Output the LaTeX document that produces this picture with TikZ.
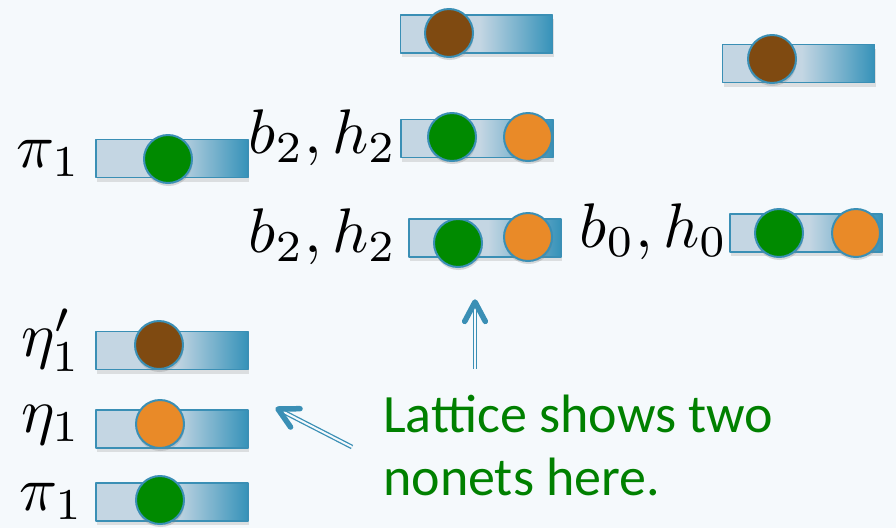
\documentclass[tikz,border=0pt]{standalone}
\usepackage{fontspec}
\newfontfamily\calib{Carlito}
\usetikzlibrary{calc,shadows}
\definecolor{bgc}{HTML}{F5F9FC}
\definecolor{barlite}{HTML}{C4D6E3}
\definecolor{bardark}{HTML}{3592B9}
\definecolor{edgeblue}{HTML}{3A8FB5}
\definecolor{qgreen}{HTML}{008A00}
\definecolor{qorange}{HTML}{E98A28}
\definecolor{qbrown}{HTML}{7F4A11}
\definecolor{txtgreen}{HTML}{008000}
\pgfdeclarehorizontalshading{barshade}{100bp}{color(0bp)=(barlite); color(51bp)=(barlite); color(75bp)=(bardark); color(100bp)=(bardark)}
\begin{document}
\begin{tikzpicture}[x=1pt, y=-1pt, line cap=round, line join=round,
    bar/.style={draw=edgeblue, line width=1.7pt, shade, shading=barshade, inner sep=0pt,
      minimum width=152pt, minimum height=38pt,
      drop shadow={opacity=0.22, shadow xshift=1pt, shadow yshift=-4pt}},
    dot/.style={circle, draw=edgeblue, line width=2pt, inner sep=0pt, minimum size=48pt,
      drop shadow={opacity=0.28, shadow xshift=0.5pt, shadow yshift=-3pt}},
    mlab/.style={inner sep=0pt, scale=6.3},
    note/.style={inner sep=0pt, align=left, text=txtgreen, font=\calib\fontsize{54}{63}\selectfont},
    dbl/.style={draw=edgeblue, line width=1.3pt, double=bgc, double distance=2pt, line cap=butt},
    chev/.style={draw=edgeblue, line width=5.5pt}]
  \fill[bgc] (0,0) rectangle (896,528);
  % upper states
  \node[bar] (topbar) at (476.5,34) {};
  \node[dot, fill=qbrown] (topdot) at (449,33) {};
  \node[bar] (rbar) at (798.5,63.5) {};
  \node[dot, fill=qbrown] (rdot) at (772,59) {};
  \node[mlab, anchor=base east] (pilab) at (82,167) {$\pi_1$};
  \node[bar] (pibar) at (172,158.5) {};
  \node[dot, fill=qgreen] (pidot) at (168,159) {};
  \node[mlab, anchor=base east] (bhlab) at (398,153) {$b_2,h_2$};
  \node[bar] (bhbar) at (477,138.5) {};
  \node[dot, fill=qgreen] (bhg) at (452,137) {};
  \node[dot, fill=qorange] (bho) at (528,137) {};
  \node[mlab, anchor=base east] (bhllab) at (398,252) {$b_2,h_2$};
  \node[bar] (bhlbar) at (485,238) {};
  \node[dot, fill=qgreen] (bhlg) at (458,243) {};
  \node[dot, fill=qorange] (bhlo) at (528,237) {};
  \node[mlab, anchor=base east] (b0lab) at (729,247) {$b_0,h_0$};
  \node[bar] (b0bar) at (806,233) {};
  \node[dot, fill=qgreen] (b0g) at (779,233) {};
  \node[dot, fill=qorange] (b0o) at (856,233) {};
  % lower states
  \node[mlab, anchor=base east] (etaplab) at (82,356) {$\eta'_1$};
  \node[bar] (etapbar) at (172,350.5) {};
  \node[dot, fill=qbrown] (etapdot) at (159,345) {};
  \node[mlab, anchor=base east] (etalab) at (82,432) {$\eta_1$};
  \node[bar] (etabar) at (172,429) {};
  \node[dot, fill=qorange] (etadot) at (160,424) {};
  \node[mlab, anchor=base east] (pillab) at (85,510) {$\pi_1$};
  \node[bar] (pilbar) at (172,502) {};
  \node[dot, fill=qgreen] (pildot) at (160,500) {};
  % note and arrows
  \node[note, anchor=base west] (lat) at (383,495) {Lattice shows two\\nonets here.};
  \coordinate (upTail) at (475,369);
  \coordinate (upTip) at (475,302);
  \coordinate (dgTail) at (352,447);
  \coordinate (dgTip) at (278,409);
  \draw[dbl] (upTail) -- ($(upTip)!3pt!(upTail)$);
  \draw[chev] ($(upTip)!22pt!28:(upTail)$) -- (upTip) -- ($(upTip)!22pt!-28:(upTail)$);
  \draw[dbl] (dgTail) -- ($(dgTip)!3pt!(dgTail)$);
  \draw[chev] ($(dgTip)!22pt!28:(dgTail)$) -- (dgTip) -- ($(dgTip)!22pt!-28:(dgTail)$);
\end{tikzpicture}
\end{document}
